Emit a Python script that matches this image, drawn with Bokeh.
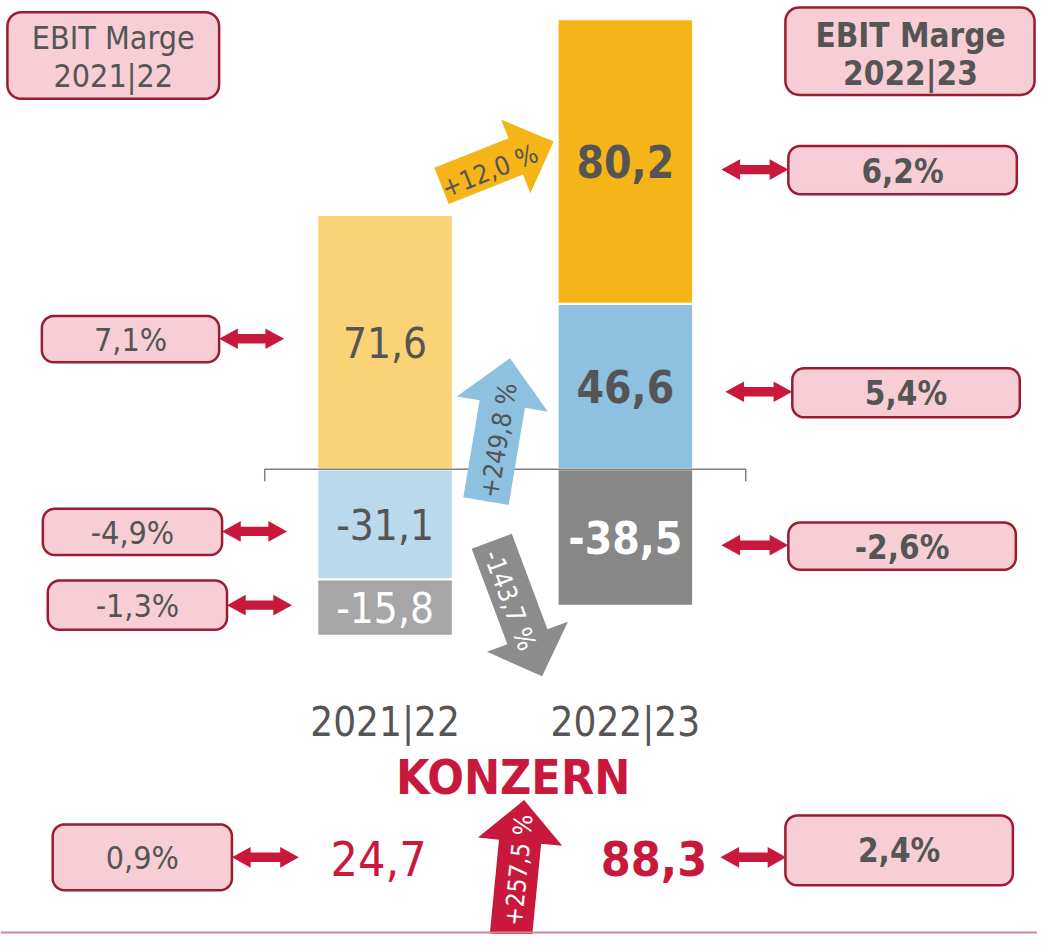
import math
from bokeh.plotting import figure
from bokeh.models import Range1d
from bokeh.core.properties import value
from bokeh.embed import file_html
from bokeh.resources import INLINE

# ---------------- data ----------------
categories = ["2021|22", "2022|23"]
seg_a = [71.6, 80.2]      # yellow segment
seg_b = [-31.1, 46.6]     # blue segment
seg_c = [-15.8, -38.5]    # grey segment
totals = [24.7, 88.3]
margin_2021 = [7.1, -4.9, -1.3]   # A, B, C
margin_2022 = [6.2, 5.4, -2.6]    # A, B, C
margin_total = [0.9, 2.4]
change_seg = [12.0, 249.8, -143.7]  # A, B, C
change_total = 257.5
margin_title = "EBIT Marge"
group_title = "KONZERN"

# ---------------- style ----------------
FONT = value("DejaVu Sans Condensed")
TXT = "#555555"
RED = "#C8193C"
BOX_FILL = "#F7CED6"
BOX_LINE = "#9B1B30"
light = {"A": "#F9D375", "B": "#BAD9ED", "C": "#A6A6A6"}
dark = {"A": "#F5B417", "B": "#8EC0E0", "C": "#878787"}


def fmt(v):
    return f"{v:.1f}".replace(".", ",")


def fmt_pct(v):
    return f"{v:.1f}".replace(".", ",") + "%"


def fmt_chg(v):
    return f"{v:+.1f}".replace(".", ",") + " %"


# pixel layout frame (reference pixel space, y down)
W, H = 1053, 950
ZERO_PX = 476.7
PX_PER_UNIT = 3.61
X0_PX, DX_PX = 390.5, 244.0

p = figure(width=1037, height=934,
           x_range=Range1d(-X0_PX / DX_PX, (W - X0_PX) / DX_PX),
           y_range=Range1d((ZERO_PX - H) / PX_PER_UNIT, ZERO_PX / PX_PER_UNIT),
           x_axis_type=None, y_axis_type=None,
           output_backend="svg", toolbar_location=None, min_border=0)
p.grid.visible = False
p.outline_line_color = None
p.background_fill_color = "white"
p.border_fill_color = "white"
p.extra_x_ranges = {"px": Range1d(0, W)}
p.extra_y_ranges = {"py": Range1d(H, 0)}
PX = dict(x_range_name="px", y_range_name="py")

# ---------------- stacked bars ----------------
series = [("B", seg_b), ("A", seg_a), ("C", seg_c)]
pos = [0.0, 0.0]
neg = [0.0, 0.0]
bw = 137.6 / DX_PX
for key, vals in series:
    for i, v in enumerate(vals):
        if v >= 0:
            b, t = pos[i], pos[i] + v
            pos[i] = t
        else:
            b, t = neg[i], neg[i] + v
            neg[i] = t
        col = light[key] if i == 0 else dark[key]
        p.vbar(x=[i], width=bw, bottom=[b], top=[t], fill_color=col,
               line_color="white", line_width=2)
        tcol = "white" if key == "C" else TXT
        p.text(x=[i], y=[(b + t) / 2], text=[fmt(v)], text_font=FONT,
               text_font_size="44px" if i == 1 else "42px",
               text_font_style="bold" if i == 1 else "normal",
               text_color=tcol, text_align="center", text_baseline="middle")

# category labels
p.text(x=list(range(len(categories))), y=[-71.3] * len(categories), text=categories,
       text_font=FONT, text_font_size="40px", text_color=TXT,
       text_align="center", text_baseline="middle")

# zero line bracket
p.line(x=[268.3, 268.3, 756.7, 756.7], y=[489, ZERO_PX, ZERO_PX, 489],
       line_color="#808080", line_width=1.5, **PX)


# ---------------- helpers ----------------
def rrect(x0, y0, x1, y1, r, n=8):
    xs, ys = [], []
    corners = [(x1 - r, y0 + r, -90, 0), (x1 - r, y1 - r, 0, 90),
               (x0 + r, y1 - r, 90, 180), (x0 + r, y0 + r, 180, 270)]
    for cx, cy, a0, a1 in corners:
        for k in range(n + 1):
            a = math.radians(a0 + (a1 - a0) * k / n)
            xs.append(cx + r * math.cos(a))
            ys.append(cy + r * math.sin(a))
    return xs, ys


def block_arrow(tail, tip, bwid, hw, hl):
    tx, ty = tail
    hx, hy = tip
    dx, dy = hx - tx, hy - ty
    L = math.hypot(dx, dy)
    ux, uy = dx / L, dy / L
    nx, ny = -uy, ux
    bx, by = hx - ux * hl, hy - uy * hl
    pts = [(tx + nx * bwid / 2, ty + ny * bwid / 2),
           (bx + nx * bwid / 2, by + ny * bwid / 2),
           (bx + nx * hw / 2, by + ny * hw / 2),
           (hx, hy),
           (bx - nx * hw / 2, by - ny * hw / 2),
           (bx - nx * bwid / 2, by - ny * bwid / 2),
           (tx - nx * bwid / 2, ty - ny * bwid / 2)]
    return [q[0] for q in pts], [q[1] for q in pts], math.atan2(-dy, dx)


def double_arrow(x0, x1, y, st=4.8, hl=19, hh=10.5):
    xs = [x0, x0 + hl, x0 + hl, x1 - hl, x1 - hl, x1, x1 - hl, x1 - hl, x0 + hl, x0 + hl]
    ys = [y, y - hh, y - st, y - st, y - hh, y, y + hh, y + st, y + st, y + hh]
    return xs, ys


def box(x0, y0, x1, y1, r=12):
    xs, ys = rrect(x0, y0, x1, y1, r)
    p.patch(xs, ys, fill_color=BOX_FILL, line_color=BOX_LINE, line_width=2.5, **PX)


def ptext(x, y, s, size, color=TXT, bold=False, angle=0.0):
    p.text(x=[x], y=[y], text=[s], text_font=FONT, text_font_size=size,
           text_font_style="bold" if bold else "normal", text_color=color,
           text_align="center", text_baseline="middle", angle=angle, **PX)


# ---------------- margin boxes ----------------
box(7, 12, 222, 100, 14)
ptext(114.5, 38, margin_title, "32px")
ptext(114.5, 77, categories[0], "32px")
box(797, 7, 1050, 96, 14)
ptext(924, 36, margin_title, "33px", bold=True)
ptext(924, 74, categories[1], "33px", bold=True)

left_boxes = [(42, 321, 222, 368, 344), (43, 517, 225, 564, 540), (48, 590, 230, 640, 615)]
for (x0, y0, x1, y1, ya), m in zip(left_boxes, margin_2021):
    box(x0, y0, x1, y1)
    ptext((x0 + x1) / 2, (y0 + y1) / 2 + 1, fmt_pct(m), "32px")
    xs, ys = double_arrow(x1, x1 + 66, ya)
    p.patch(xs, ys, fill_color=RED, line_color=None, **PX)

right_boxes = [(800, 148, 1032, 197, 172), (804, 374, 1035, 424, 398), (800, 531, 1031, 579, 554)]
for (x0, y0, x1, y1, ya), m in zip(right_boxes, margin_2022):
    box(x0, y0, x1, y1)
    ptext((x0 + x1) / 2, (y0 + y1) / 2 + 1, fmt_pct(m), "33px", bold=True)
    xs, ys = double_arrow(x0 - 68, x0, ya)
    p.patch(xs, ys, fill_color=RED, line_color=None, **PX)

# total margins
box(53, 838, 235, 905)
ptext(144, 872, fmt_pct(margin_total[0]), "32px")
xs, ys = double_arrow(235, 303, 871.5)
p.patch(xs, ys, fill_color=RED, line_color=None, **PX)
box(797, 829, 1028, 900)
ptext(912.5, 865, fmt_pct(margin_total[1]), "33px", bold=True)
xs, ys = double_arrow(731, 798, 871.5)
p.patch(xs, ys, fill_color=RED, line_color=None, **PX)

# ---------------- change arrows ----------------
arrows = [
    ((447.8, 188.5), (561.7, 143.3), 39.7, 80.4, 41.4, dark["A"], TXT, (496.7, 173.3), change_seg[0]),
    ((493.0, 509.2), (517.3, 364.0), 46.7, 94.0, 47.1, dark["B"], TXT, (505.7, 447.3), change_seg[1]),
    ((498.8, 550.0), (550.0, 687.3), 43.5, 87.7, 42.8, "#8C8C8C", "white", (517.3, 610.0), change_seg[2]),
]
for tail, tip, bwid, hw, hl, fc, tc, tpos, chg in arrows:
    xs, ys, ang = block_arrow(tail, tip, bwid, hw, hl)
    p.patch(xs, ys, fill_color=fc, line_color=None, **PX)
    ptext(tpos[0], tpos[1], fmt_chg(chg), "26px", color=tc, angle=ang)

# konzern
ptext(520.5, 790, group_title, "48px", color=RED, bold=True)
ptext(384, 873, fmt(totals[0]), "48px", color=RED)
ptext(663.5, 873, fmt(totals[1]), "48px", color=RED, bold=True)

xs, ys, ang = block_arrow((518.3, 951), (531.7, 813.3), 43, 86, 42.5)
p.patch(xs, ys, fill_color=RED, line_color=None, **PX)
ptext(526.2, 884.5, fmt_chg(change_total), "25px", color="white", angle=ang)

# bottom rule
p.line(x=[0, W], y=[948, 948], line_color="#DB8294", line_width=2, **PX)

open("out.html", "w").write(file_html(p, INLINE))
